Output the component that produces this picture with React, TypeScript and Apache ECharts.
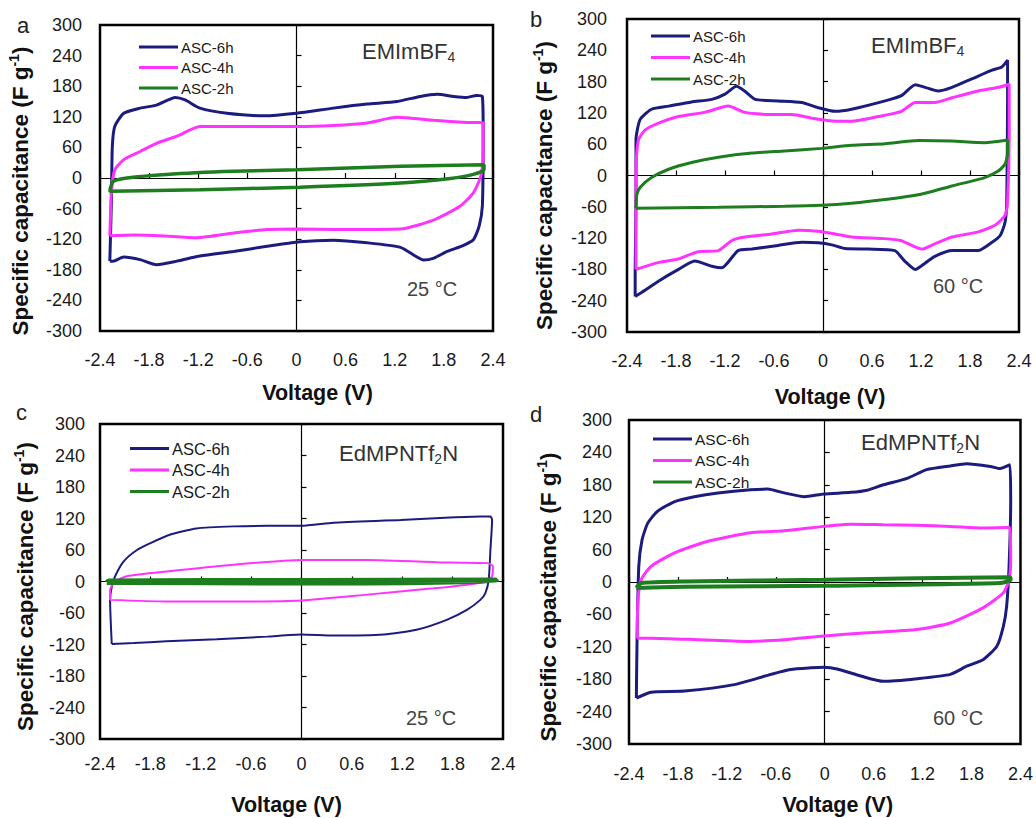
import React, { useEffect, useRef } from 'react';
import * as echarts from 'echarts';

const X_MIN = -2.4, X_MAX = 2.4, X_INTERVAL = 0.6;
const Y_MIN = -300, Y_MAX = 300, Y_INTERVAL = 60;
const SERIES_NAMES = ['ASC-6h', 'ASC-4h', 'ASC-2h'];
const X_NAME = 'Voltage (V)';
const Y_NAME = 'Specific capacitance (F g{sup|-1})';

// Panel a: EMImBF4, 25 °C  — [voltage, capacitance]
const A_6H: number[][] = [[-2.28,-163],[-2.26,-42],[-2.25,60],[-2.22,101],[-2.11,127],[-1.91,137],[-1.71,143],[-1.48,158],[-1.36,153],[-1.18,137],[-0.85,127],[-0.40,122],[0.0,127],[0.45,137],[0.86,145],[1.23,150],[1.51,160],[1.72,164],[1.92,160],[2.08,158],[2.20,162],[2.27,160],[2.28,88],[2.27,-55],[2.23,-95],[2.16,-121],[2.04,-132],[1.84,-144],[1.68,-157],[1.55,-161],[1.45,-153],[1.27,-136],[0.86,-127],[0.45,-122],[0.04,-125],[-0.36,-134],[-0.77,-144],[-1.18,-153],[-1.46,-163],[-1.71,-170],[-1.91,-160],[-2.11,-155],[-2.24,-163],[-2.28,-163]];
const A_4H: number[][] = [[-2.28,-113],[-2.27,-60],[-2.26,-23],[-2.22,16],[-2.11,36],[-1.91,52],[-1.71,68],[-1.46,82],[-1.18,101],[-0.77,101],[0.0,101],[0.45,103],[0.86,108],[1.23,119],[1.68,113],[2.08,109],[2.28,108],[2.28,42],[2.25,3],[2.16,-29],[2.0,-55],[1.68,-82],[1.27,-100],[0.45,-101],[0.04,-100],[-0.36,-101],[-0.77,-108],[-1.22,-117],[-1.67,-113],[-1.99,-112],[-2.28,-113]];
const A_2H: number[][] = [[-2.28,-24],[-2.24,-7],[-2.07,0],[-1.59,7],[-0.77,13],[0.0,16],[1.27,23],[2.29,26],[2.29,16],[2.16,7],[1.88,-1],[1.27,-10],[0.04,-18],[-1.18,-23],[-2.28,-26],[-2.28,-24]];

// Panel b: EMImBF4, 60 °C
const B_6H: number[][] = [[-2.30,-232],[-2.30,-180],[-2.29,-50],[-2.29,68],[-2.24,107],[-2.10,127],[-1.89,133],[-1.61,141],[-1.36,146],[-1.20,156],[-1.06,171],[-0.96,162],[-0.83,146],[-0.55,143],[-0.26,140],[-0.06,130],[0.15,123],[0.35,127],[0.76,143],[0.96,153],[1.13,174],[1.25,169],[1.41,162],[1.58,169],[1.82,185],[2.07,202],[2.19,208],[2.26,221],[2.26,146],[2.25,-50],[2.23,-89],[2.17,-115],[2.07,-128],[1.90,-144],[1.58,-144],[1.37,-155],[1.25,-168],[1.13,-180],[1.00,-164],[0.88,-144],[0.55,-141],[0.27,-140],[0.11,-133],[-0.06,-129],[-0.26,-128],[-0.55,-134],[-0.87,-141],[-1.04,-144],[-1.24,-177],[-1.36,-174],[-1.57,-164],[-1.77,-180],[-2.02,-203],[-2.18,-220],[-2.30,-232]];
const B_4H: number[][] = [[-2.29,-180],[-2.29,16],[-2.26,68],[-2.18,87],[-2.02,100],[-1.77,113],[-1.45,121],[-1.16,133],[-0.96,121],[-0.67,117],[-0.38,117],[-0.14,110],[0.15,104],[0.35,104],[0.68,113],[0.96,123],[1.13,140],[1.37,140],[1.58,149],[1.90,162],[2.15,169],[2.28,175],[2.28,81],[2.26,-50],[2.23,-76],[2.11,-95],[1.90,-108],[1.58,-118],[1.37,-131],[1.21,-141],[0.96,-125],[0.76,-121],[0.35,-118],[0.15,-112],[-0.06,-107],[-0.30,-105],[-0.63,-112],[-0.96,-118],[-1.12,-125],[-1.28,-144],[-1.53,-146],[-1.77,-160],[-2.02,-167],[-2.29,-180]];
const B_2H: number[][] = [[-2.29,-63],[-2.28,-37],[-2.24,-23],[-2.10,-4],[-1.89,12],[-1.61,25],[-1.28,35],[-0.87,43],[-0.47,47],[-0.02,52],[0.35,58],[0.76,61],[1.17,67],[1.58,66],[1.98,63],[2.26,68],[2.26,42],[2.23,22],[2.15,9],[1.98,-4],[1.58,-20],[1.17,-37],[0.76,-46],[0.35,-53],[-0.02,-57],[-0.47,-59],[-1.28,-61],[-2.29,-63]];

// Panel c: EdMPNTf2N, 25 °C
const C_6H: number[][] = [[-2.26,-119],[-2.28,-35],[-2.26,-10],[-2.22,10],[-2.12,38],[-1.96,60],[-1.80,73],[-1.57,89],[-1.25,101],[-0.81,105],[-0.41,106],[0.0,106],[0.38,112],[1.18,117],[1.77,122],[2.13,124],[2.25,124],[2.27,117],[2.25,60],[2.23,3],[2.19,-22],[2.13,-35],[1.97,-54],[1.73,-73],[1.37,-92],[0.98,-101],[0.38,-103],[0.0,-101],[-0.41,-105],[-1.01,-110],[-1.61,-114],[-2.0,-117],[-2.26,-119]];
const C_4H: number[][] = [[-2.28,-35],[-2.28,-16],[-2.22,0],[-2.08,10],[-1.61,19],[-0.81,32],[0.0,41],[0.78,41],[1.77,36],[2.21,35],[2.28,29],[2.27,10],[2.21,0],[1.97,-6],[1.57,-13],[0.78,-25],[0.0,-36],[-0.81,-38],[-1.61,-38],[-2.28,-35]];
const C_2H: number[][] = [[-2.32,-2],[-2.30,1],[0,2],[2.32,3],[2.32,0],[0,-3],[-2.32,-2]];

// Panel d: EdMPNTf2N, 60 °C
const D_6H: number[][] = [[-2.31,-215],[-2.30,-94],[-2.28,29],[-2.24,78],[-2.17,109],[-2.05,131],[-1.84,149],[-1.60,158],[-1.31,165],[-0.91,171],[-0.70,172],[-0.50,165],[-0.25,158],[-0.01,163],[0.32,166],[0.52,170],[0.72,180],[1.01,192],[1.25,208],[1.54,215],[1.74,219],[2.03,214],[2.15,210],[2.27,217],[2.28,152],[2.26,29],[2.23,-45],[2.19,-82],[2.11,-119],[1.94,-144],[1.74,-156],[1.54,-171],[1.13,-179],[0.72,-184],[0.44,-174],[0.15,-161],[-0.01,-158],[-0.17,-159],[-0.42,-162],[-0.66,-171],[-1.11,-190],[-1.72,-202],[-2.13,-204],[-2.31,-215]];
const D_4H: number[][] = [[-2.30,-104],[-2.29,-33],[-2.25,4],[-2.13,29],[-1.84,54],[-1.44,75],[-0.91,91],[-0.50,95],[-0.01,103],[0.32,107],[0.72,106],[1.13,105],[1.54,103],[1.94,100],[2.27,101],[2.28,41],[2.26,4],[2.19,-20],[1.94,-48],[1.54,-76],[1.13,-88],[0.52,-94],[-0.01,-100],[-0.50,-107],[-0.91,-110],[-1.52,-107],[-2.13,-104],[-2.30,-104]];
const D_2H: number[][] = [[-2.31,-11],[-2.25,-2],[-1.72,1],[0.0,4],[2.27,9],[2.28,4],[2.15,-2],[0.0,-7],[-1.72,-9],[-2.31,-11]];

const PANEL_LETTERS = ['a', 'b', 'c', 'd'];
const ELECTROLYTES = ['EMImBF{sub|4}', 'EMImBF{sub|4}', 'EdMPNTf{sub|2}N', 'EdMPNTf{sub|2}N'];
const TEMPERATURES = ['25 °C', '60 °C', '25 °C', '60 °C'];
const PANEL_DATA = [[A_6H, A_4H, A_2H], [B_6H, B_4H, B_2H], [C_6H, C_4H, C_2H], [D_6H, D_4H, D_2H]];

const COLORS = ['#1c1c7e', '#ff33ff', '#1e7d1e'];
const FONT = 'Arial, "Liberation Sans", sans-serif';

const LAYOUT = [
  { grid: { left: 100, top: 25, width: 393, height: 306 }, yLabM: 18, xLabM: 20, xGap: 51, xPad: [0, 0, 0, 42], yGap: 66, yPad: [0, 26, 0, 0],
    legend: { left: 139, top: 39.5 }, legFont: 15, legGap: 5.5, elec: { left: 362, top: 38 }, temp: { left: 407, top: 279 }, letter: { left: 17, top: 14 }, widths: [3, 3, 3.5] },
  { grid: { left: 627, top: 19, width: 392, height: 313 }, yLabM: 20, xLabM: 20, xGap: 54, xPad: [0, 0, 0, 14], yGap: 69, yPad: [0, 20, 0, 0],
    legend: { left: 651, top: 28.5 }, legFont: 15, legGap: 6.5, elec: { left: 871, top: 32 }, temp: { left: 933, top: 276 }, letter: { left: 530, top: 8 }, widths: [3, 3, 3] },
  { grid: { left: 100, top: 424, width: 403, height: 315 }, yLabM: 15, xLabM: 16, xGap: 55, xPad: [0, 30, 0, 0], yGap: 61, yPad: [0, 10, 0, 0],
    legend: { left: 130, top: 440 }, legFont: 16.5, legGap: 4.5, elec: { left: 339, top: 440 }, temp: { left: 406, top: 708 }, letter: { left: 16, top: 401 }, widths: [2, 2, 5] },
  { grid: { left: 629, top: 420, width: 393, height: 324 }, yLabM: 17, xLabM: 21, xGap: 50, xPad: [0, 0, 0, 26], yGap: 67, yPad: [0, 30, 0, 0],
    legend: { left: 653, top: 431 }, legFont: 15.5, legGap: 5.5, elec: { left: 861, top: 429 }, temp: { left: 933, top: 708 }, letter: { left: 530, top: 403 }, widths: [3, 3, 4] },
];

const fmtX = (v: number) => { const r = Math.round(v * 10) / 10; return r === 0 ? '0' : String(r); };
const fmtY = (v: number) => { const r = Math.round(v); return r === 0 ? '0' : String(r); };

function buildOption() {
  const grid: any[] = [], xAxis: any[] = [], yAxis: any[] = [], series: any[] = [], legend: any[] = [], title: any[] = [];
  LAYOUT.forEach((L, i) => {
    grid.push({ ...L.grid, show: true, borderColor: '#000', borderWidth: 2.5, backgroundColor: 'transparent', containLabel: false });
    xAxis.push({
      gridIndex: i, type: 'value', min: X_MIN, max: X_MAX, interval: X_INTERVAL, position: 'bottom',
      axisLine: { show: false, onZero: false }, axisTick: { show: false }, splitLine: { show: false },
      axisLabel: { fontSize: 18, color: '#1a1a1a', fontFamily: FONT, margin: L.xLabM, formatter: fmtX },
      name: X_NAME, nameLocation: 'middle', nameGap: L.xGap,
      nameTextStyle: { fontSize: 21.5, fontWeight: 'bold', color: '#111', fontFamily: FONT, padding: L.xPad, verticalAlign: 'top' },
    });
    xAxis.push({
      gridIndex: i, type: 'value', min: X_MIN, max: X_MAX, interval: X_INTERVAL, position: 'bottom',
      axisLine: { show: true, onZero: true, lineStyle: { color: '#000', width: 1.2 } },
      axisTick: { show: true, inside: true, length: 5, lineStyle: { color: '#000', width: 1.2 } },
      axisLabel: { show: false }, splitLine: { show: false },
    });
    yAxis.push({
      gridIndex: i, type: 'value', min: Y_MIN, max: Y_MAX, interval: Y_INTERVAL, position: 'left',
      axisLine: { show: false, onZero: false }, axisTick: { show: false }, splitLine: { show: false },
      axisLabel: { fontSize: 18, color: '#1a1a1a', fontFamily: FONT, margin: L.yLabM, formatter: fmtY },
      name: Y_NAME, nameLocation: 'middle', nameGap: L.yGap,
      nameTextStyle: { fontSize: 22.5, fontWeight: 'bold', color: '#111', fontFamily: FONT, padding: L.yPad,
        rich: { sup: { fontSize: 14, fontWeight: 'bold', color: '#111', fontFamily: FONT, padding: [0, 0, 13, 0] } } },
    });
    yAxis.push({
      gridIndex: i, type: 'value', min: Y_MIN, max: Y_MAX, interval: Y_INTERVAL, position: 'left',
      axisLine: { show: true, onZero: true, lineStyle: { color: '#000', width: 1.2 } },
      axisTick: { show: true, inside: true, length: 5, lineStyle: { color: '#000', width: 1.2 } },
      axisLabel: { show: false }, splitLine: { show: false },
    });
    PANEL_DATA[i].forEach((d, k) => {
      series.push({
        name: SERIES_NAMES[k], type: 'line', xAxisIndex: 2 * i, yAxisIndex: 2 * i, data: d,
        showSymbol: false, symbol: 'none', smooth: 0.2, color: COLORS[k],
        lineStyle: { width: L.widths[k], color: COLORS[k] }, itemStyle: { color: COLORS[k] },
      });
    });
    legend.push({
      data: SERIES_NAMES, orient: 'vertical', left: L.legend.left, top: L.legend.top, padding: 0,
      icon: 'rect', itemWidth: 39, itemHeight: 3, itemGap: L.legGap, selectedMode: false,
      textStyle: { fontSize: L.legFont, color: '#1a1a1a', fontFamily: FONT, padding: [0, 0, 0, -2] },
    });
    title.push({ text: PANEL_LETTERS[i], left: L.letter.left, top: L.letter.top, padding: 0,
      textStyle: { fontSize: 22, fontWeight: 'normal', color: '#222', fontFamily: FONT } });
    title.push({ text: ELECTROLYTES[i], left: L.elec.left, top: L.elec.top, padding: 0,
      textStyle: { fontSize: 22, fontWeight: 'normal', color: '#333', fontFamily: FONT,
        rich: { sub: { fontSize: 14, color: '#333', fontFamily: FONT, padding: [12, 0, 0, 0] } } } });
    title.push({ text: TEMPERATURES[i], left: L.temp.left, top: L.temp.top, padding: 0,
      textStyle: { fontSize: 20, fontWeight: 'normal', color: '#444', fontFamily: FONT } });
  });
  return { animation: false, backgroundColor: '#fff', textStyle: { fontFamily: FONT }, grid, xAxis, yAxis, series, legend, title };
}

export default function App() {
  const ref = useRef<HTMLDivElement>(null);
  useEffect(() => {
    const chart = echarts.init(ref.current!, null, { renderer: 'svg' });
    chart.setOption(buildOption() as any);
    return () => chart.dispose();
  }, []);
  return <div ref={ref} style={{ position: 'fixed', left: 0, top: 0, width: 1036, height: 818, background: '#fff' }} />;
}
